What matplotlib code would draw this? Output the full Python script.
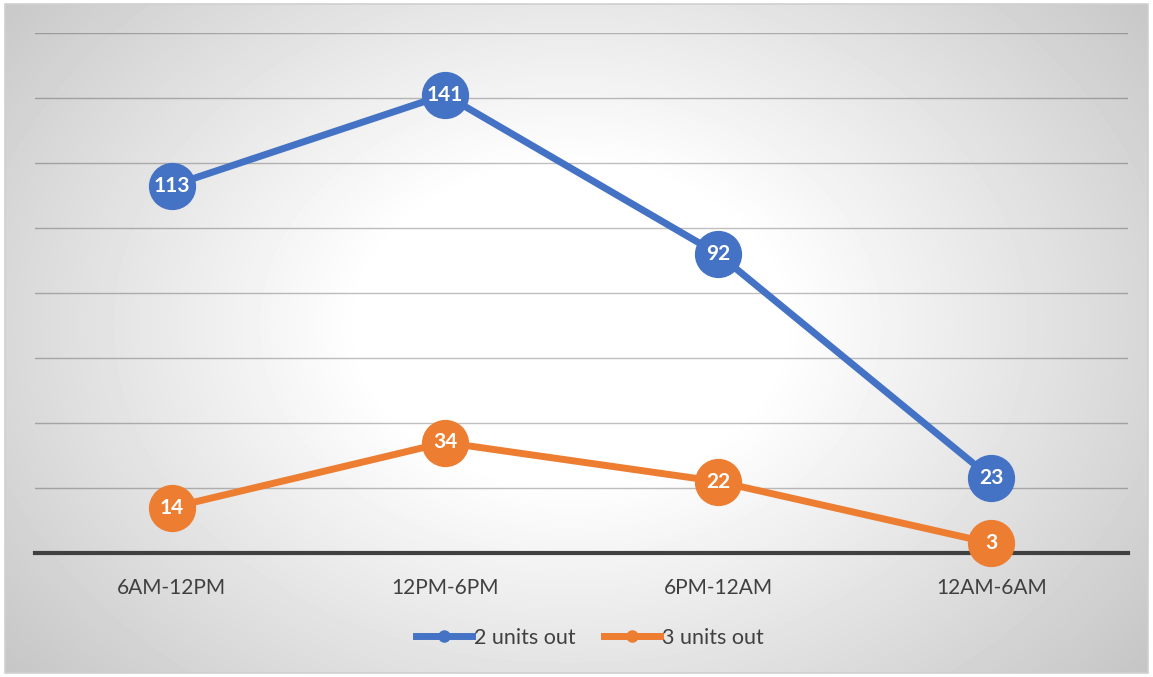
import matplotlib
matplotlib.use("Agg")
import matplotlib.pyplot as plt
from matplotlib.patches import Rectangle
from matplotlib.lines import Line2D
import numpy as np

# data
periods = ["6AM-12PM", "12PM-6PM", "6PM-12AM", "12AM-6AM"]
two_units = [113, 141, 92, 23]
three_units = [14, 34, 22, 3]
series_names = ["2 units out", "3 units out"]
colors = ["#4472C4", "#ED7D31"]

plt.rcParams['font.family'] = ['Lato', 'DejaVu Sans']

W, H = 1153, 677
fig = plt.figure(figsize=(W / 100, H / 100), dpi=100)
fig.patch.set_facecolor("white")

# radial gradient background inside the chart border
bg = fig.add_axes([5 / W, 4 / H, 1143 / W, 669 / H], zorder=0)
yy, xx = np.mgrid[0:669, 0:1143]
cx, cy = 565, 320
r = np.sqrt(((xx - cx) / 700) ** 2 + ((yy - cy) / 520) ** 2)
shade = np.clip(1.0 - 0.3 * (r - 0.3), 0.76, 1.0)
bg.imshow(shade, cmap="gray", vmin=0, vmax=1, aspect="auto", interpolation="bilinear")
bg.set_axis_off()
fig.patches.append(Rectangle((5 / W, 4 / H), 1143 / W, 669 / H, transform=fig.transFigure,
                             fill=False, edgecolor="#d0d0d0", linewidth=1.2, zorder=5))

ax = fig.add_axes([35 / W, 1 - 553 / H, 1093 / W, 520 / H], zorder=2)
ax.patch.set_alpha(0)
x = np.arange(len(periods))
ax.set_xlim(-0.5, 3.5)
ax.set_ylim(0, 160)
ax.set_yticks(np.arange(20, 161, 20))
ax.yaxis.grid(True, color="black", alpha=0.25, linewidth=1.0)
ax.set_axisbelow(True)
ax.tick_params(axis="y", left=False, labelleft=False)
ax.tick_params(axis="x", length=0, pad=18, labelsize=15, labelcolor="#404040")
ax.set_xticks(x)
ax.set_xticklabels(periods)
for s in ["left", "right", "top"]:
    ax.spines[s].set_visible(False)
ax.spines["bottom"].set_color("#404040")
ax.spines["bottom"].set_linewidth(3)
ax.spines["bottom"].set_zorder(1)

for vals, c in zip([two_units, three_units], colors):
    ax.plot(x, vals, color=c, linewidth=5, marker="o", markersize=33,
            clip_on=False, zorder=3, solid_capstyle="round")
    for xi, v in zip(x, vals):
        ax.text(xi, v, str(v), ha="center", va="center", color="white",
                fontsize=15, fontweight="bold", zorder=4)

handles = [Line2D([0], [0], color=c, linewidth=5, marker="o", markersize=8) for c in colors]
fig.legend(handles, series_names, loc="center", bbox_to_anchor=(590 / W, 1 - 638 / H),
           ncol=2, frameon=False, fontsize=15.5, labelcolor="#404040",
           handlelength=2.6, handletextpad=0.1, columnspacing=1.3)

fig.savefig("out.png", dpi=100)
